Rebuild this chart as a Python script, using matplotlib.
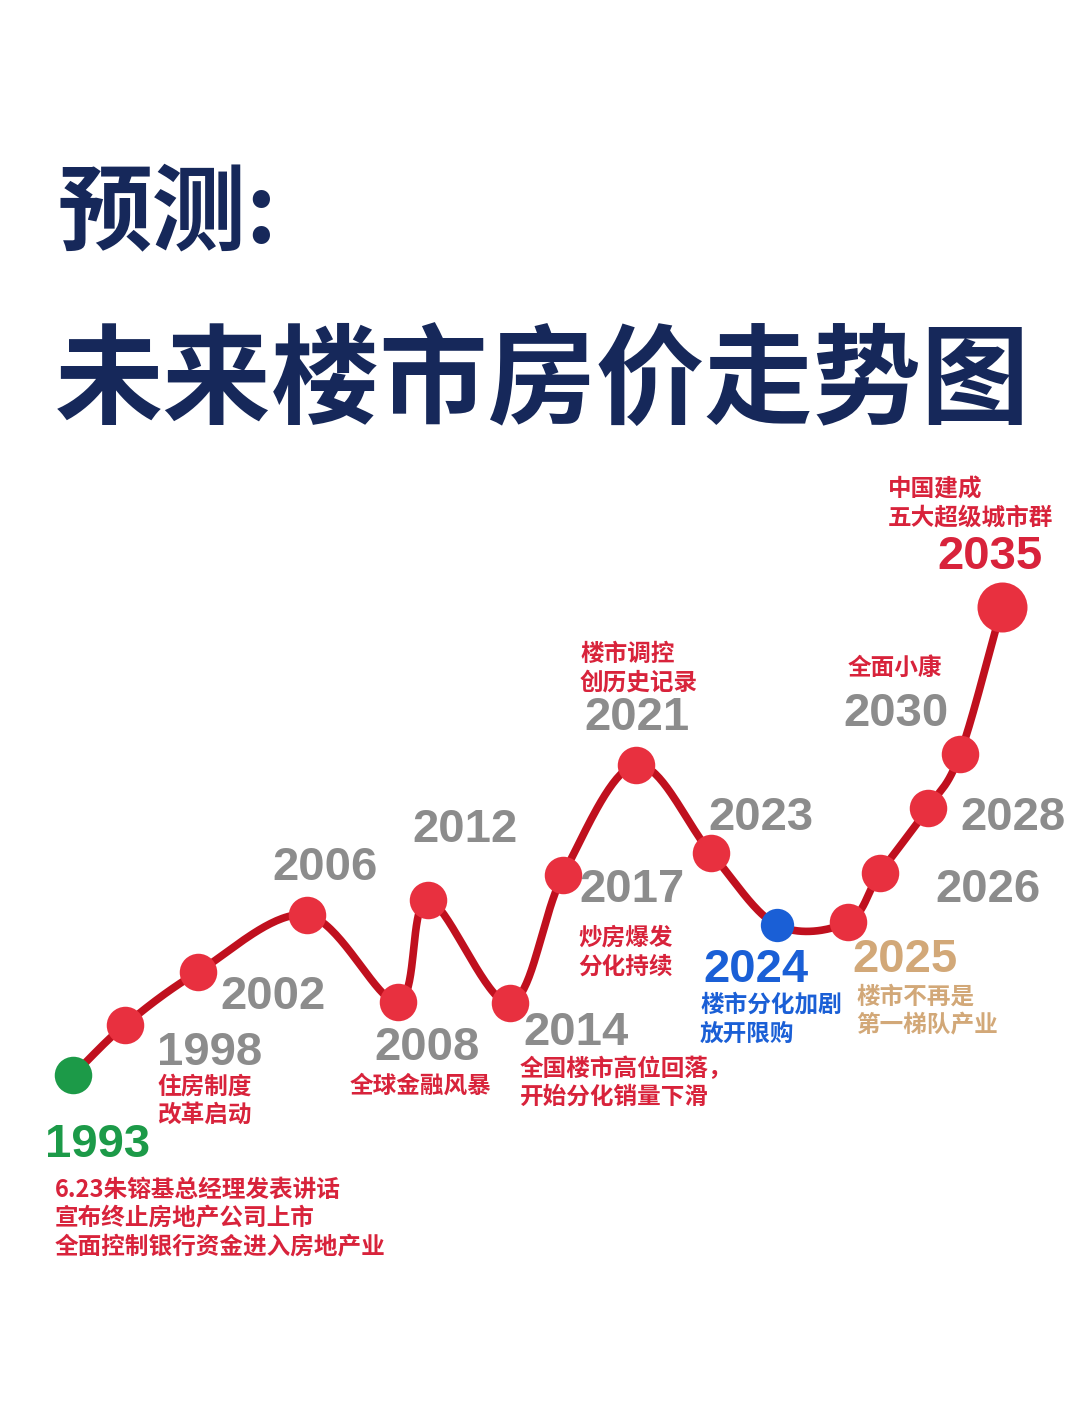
import numpy as np
import matplotlib
matplotlib.use("Agg")
import matplotlib.pyplot as plt

plt.rcParams['font.family'] = ['Noto Sans CJK SC', 'DejaVu Sans']

# years along the curve, with layout position and level (pixel height in the picture)
years = ['1993', '1998', '2002', '2006', '2008', '2012', '2014', '2017',
         '2021', '2023', '2024', '2025', '2026', '2028', '2030', '2035']
xpos = [73, 125, 198, 307, 398, 428, 510, 563, 636, 711, 777, 848, 880, 928, 960, 1002]
ypos = [1075, 1025, 972, 915, 1002, 900, 1003, 875, 765, 853, 925, 922, 873, 808, 754, 607]

# year label positions and colours
year_lx = [98, 210, 273, 325, 427, 465, 576, 632, 637, 761, 756, 905, 988, 1013, 896, 990]
year_ly = [1145, 1053, 997, 868, 1048, 830, 1033, 890, 718, 818, 970, 960, 890, 818, 714, 557]

GRAY = '#8c8c8c'
RED = '#d8233b'
GREEN = '#1c9a48'
BLUE = '#1a5fd6'
TAN = '#d2a878'
NAVY = '#16285a'
year_colors = [GREEN, GRAY, GRAY, GRAY, GRAY, GRAY, GRAY, GRAY,
               GRAY, GRAY, BLUE, TAN, GRAY, GRAY, GRAY, RED]

notes = [
    (55, [1190, 1218, 1247], ['6.23朱镕基总经理发表讲话', '宣布终止房地产公司上市', '全面控制银行资金进入房地产业'], RED),
    (157, [1087, 1115], ['住房制度', '改革启动'], RED),
    (350, [1086], ['全球金融风暴'], RED),
    (520, [1069, 1097], ['全国楼市高位回落，', '开始分化销量下滑'], RED),
    (578, [938, 967], ['炒房爆发', '分化持续'], RED),
    (580, [654, 683], ['楼市调控', '创历史记录'], RED),
    (700, [1005, 1034], ['楼市分化加剧', '放开限购'], BLUE),
    (856, [997, 1025], ['楼市不再是', '第一梯队产业'], TAN),
    (848, [668], ['全面小康'], RED),
    (888, [490, 518], ['中国建成', '五大超级城市群'], RED),
]


def catmull_rom(xs, ys, n=40):
    p = np.column_stack([xs, ys]).astype(float)
    p = np.vstack([p[0] - (p[1] - p[0]), p, p[-1] + (p[-1] - p[-2])])
    out = []
    for i in range(1, len(p) - 2):
        p0, p1, p2, p3 = p[i - 1], p[i], p[i + 1], p[i + 2]
        t = np.linspace(0, 1, n)[:, None]
        seg = 0.5 * ((2 * p1) + (-p0 + p2) * t + (2 * p0 - 5 * p1 + 4 * p2 - p3) * t ** 2
                     + (-p0 + 3 * p1 - 3 * p2 + p3) * t ** 3)
        out.append(seg)
    out = np.vstack(out)
    return out[:, 0], out[:, 1]


fig = plt.figure(figsize=(10.8, 14.1), dpi=100)
ax = fig.add_axes([0, 0, 1, 1])
ax.set_xlim(0, 1080)
ax.set_ylim(1410, 0)
ax.axis('off')

ax.text(58, 215, '预测:', fontsize=68, fontweight='bold', color=NAVY, va='center', ha='left')
ax.text(55, 385, '未来楼市房价走势图', fontsize=78, fontweight='bold', color=NAVY, va='center', ha='left')

cx, cy = catmull_rom(xpos, ypos)
ax.plot(cx, cy, color='#c0101e', lw=5.5, solid_capstyle='round', zorder=2)

for i, yr in enumerate(years):
    color = '#e8303f'
    size = 27
    if yr == '1993':
        color = GREEN
    elif yr == '2024':
        color = BLUE
        size = 24
    elif yr == '2035':
        size = 36
    ax.plot(xpos[i], ypos[i], 'o', ms=size, color=color, mec='none', zorder=3)
    ax.text(year_lx[i], year_ly[i], yr, fontsize=34, fontweight='bold',
            family=['Liberation Sans', 'DejaVu Sans'], color=year_colors[i],
            ha='center', va='center')

for x, ys, lines, c in notes:
    for y, s in zip(ys, lines):
        ax.text(x, y, s, fontsize=17, fontweight='bold', color=c, ha='left', va='center')

fig.savefig('out.png', dpi=100, facecolor='white')
